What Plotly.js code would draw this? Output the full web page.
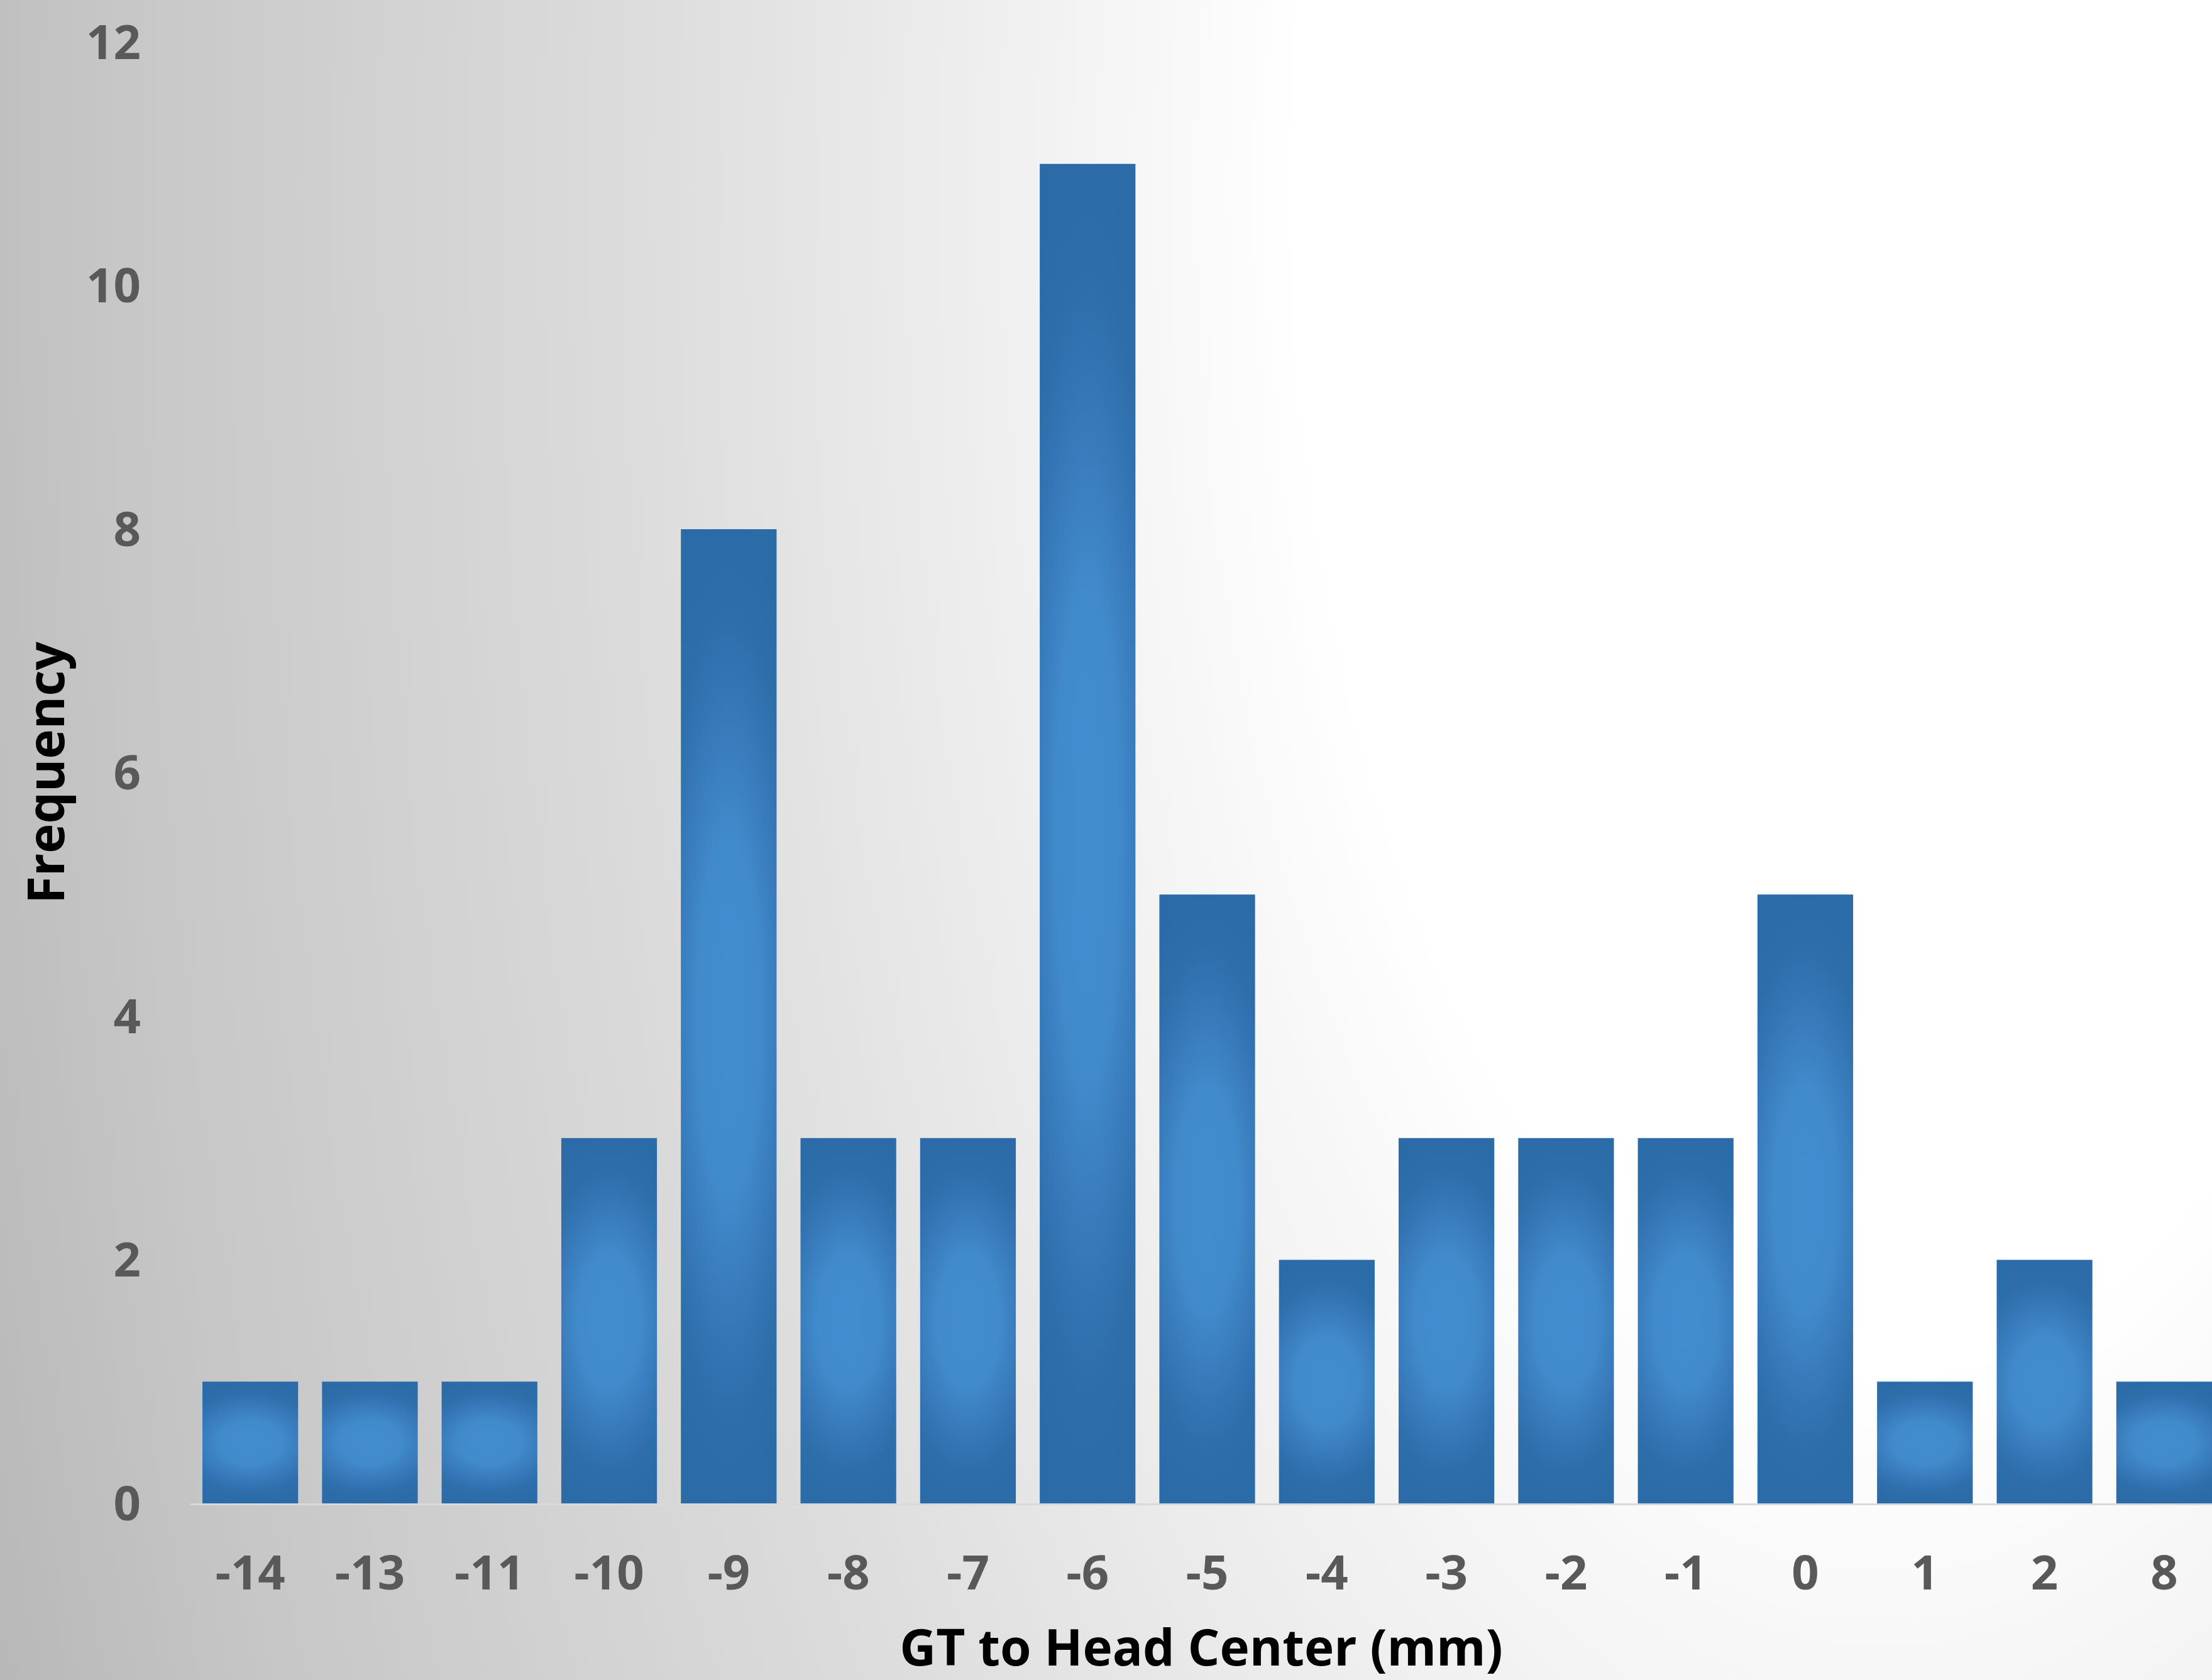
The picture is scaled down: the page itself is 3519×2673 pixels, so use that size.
<!DOCTYPE html>
<html>
<head>
<meta charset="utf-8">
<script src="https://cdn.plot.ly/plotly-3.0.1.min.js"></script>
<style>
  html, body { margin: 0; padding: 0; }
  body {
    width: 3519px; height: 2673px; overflow: hidden;
    background: radial-gradient(3226px 6452px at 3000px 300px, #ffffff 0%, #ffffff 29%, #ebebeb 48%, #dcdcdc 62%, #c6c6c6 88%, #b8b8b8 100%);
  }
  #chart { width: 3519px; height: 2673px; }
</style>
</head>
<body>
<div id="chart"></div>
<script>
// Data
const categories = ['-14','-13','-11','-10','-9','-8','-7','-6','-5','-4','-3','-2','-1','0','1','2','8'];
const frequency  = [1, 1, 1, 3, 8, 3, 3, 11, 5, 2, 3, 3, 3, 5, 1, 2, 1];
const yTicks     = [0, 2, 4, 6, 8, 10, 12];
const xTitle = 'GT to Head Center (mm)';
const yTitle = 'Frequency';

const tickFont  = {family: 'Open Sans, Lato, sans-serif', size: 76, color: '#595959', weight: 700};
const titleFont = {family: 'Open Sans, Lato, sans-serif', size: 80, color: '#000000', weight: 700};

const trace = {
  type: 'bar',
  x: categories,
  y: frequency,
  marker: {color: '#3A7EC0', line: {width: 0}},
  hoverinfo: 'x+y'
};

const layout = {
  width: 3519,
  height: 2673,
  margin: {l: 303, r: 0, t: 67, b: 281, pad: 0},
  paper_bgcolor: 'rgba(0,0,0,0)',
  plot_bgcolor: 'rgba(0,0,0,0)',
  bargap: 0.2,
  showlegend: false,
  xaxis: {
    type: 'category',
    range: [-0.5, 16.4],
    showgrid: false,
    zeroline: false,
    showline: true,
    linecolor: '#D9D9D9',
    linewidth: 3,
    ticks: '',
    tickfont: tickFont,
    ticklabelstandoff: 43,
    automargin: false,
    title: {text: xTitle, font: titleFont, standoff: 76}
  },
  yaxis: {
    range: [0, 12],
    tickvals: yTicks,
    showgrid: false,
    zeroline: false,
    showline: false,
    ticks: '',
    tickfont: tickFont,
    ticklabelstandoff: 78,
    automargin: false,
    title: {text: yTitle, font: titleFont, standoff: 8}
  }
};

Plotly.newPlot('chart', [trace], layout, {staticPlot: true, displayModeBar: false}).then(function (gd) {
  const svg = gd.querySelector('svg.main-svg');
  const ns = 'http://www.w3.org/2000/svg';
  let defs = svg.querySelector('defs');
  if (!defs) { defs = document.createElementNS(ns, 'defs'); svg.insertBefore(defs, svg.firstChild); }
  const grad = document.createElementNS(ns, 'radialGradient');
  grad.setAttribute('id', 'barGrad');
  grad.setAttribute('cx', '0.5');
  grad.setAttribute('cy', '0.5');
  grad.setAttribute('r', '0.5');
  grad.setAttribute('gradientTransform', 'translate(0.5,0.5) scale(1.8,1) translate(-0.5,-0.5)');
  const stops = [[0, '#428DCF'], [0.35, '#418BCD'], [0.62, '#3779B9'], [0.82, '#2D6EAB'], [1, '#2B6CA8']];
  stops.forEach(function (s) {
    const st = document.createElementNS(ns, 'stop');
    st.setAttribute('offset', s[0]);
    st.setAttribute('stop-color', s[1]);
    grad.appendChild(st);
  });
  defs.appendChild(grad);
  gd.querySelectorAll('.trace.bars .point path').forEach(function (p) {
    p.style.fill = 'url(#barGrad)';
  });
});
</script>
</body>
</html>
